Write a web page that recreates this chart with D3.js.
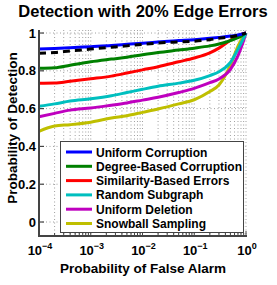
<!DOCTYPE html>
<html>
<head>
<meta charset="utf-8">
<script src="https://cdn.jsdelivr.net/npm/d3@7"></script>
<style>
  body { margin: 0; background: #fff; }
  text { font-family: "Liberation Sans", Arial, Helvetica, sans-serif; font-weight: bold; fill: #000; }
</style>
</head>
<body>
<div id="chart"></div>
<script>
// false alarm rates shared by all curves
var fpr = [1e-4, 2e-4, 4e-4, 1e-3, 2.5e-3, 5e-3, 0.01, 0.02, 0.05, 0.1, 0.2, 0.3, 0.5, 0.7, 0.85, 1];

// detection probability per method
var uniformCorruption = [0.915, 0.918, 0.922, 0.928, 0.934, 0.94, 0.946, 0.953, 0.96, 0.965, 0.972, 0.977, 0.984, 0.99, 0.995, 1];
var degreeBased       = [0.813, 0.816, 0.83, 0.848, 0.862, 0.872, 0.885, 0.897, 0.91, 0.92, 0.932, 0.942, 0.96, 0.975, 0.988, 1];
var similarityBased   = [0.734, 0.735, 0.745, 0.758, 0.772, 0.788, 0.805, 0.822, 0.848, 0.868, 0.895, 0.92, 0.962, 0.985, 0.995, 1];
var randomSubgraph    = [0.612, 0.625, 0.64, 0.652, 0.668, 0.685, 0.702, 0.718, 0.735, 0.75, 0.775, 0.795, 0.845, 0.915, 0.96, 1];
var uniformDeletion   = [0.557, 0.575, 0.592, 0.603, 0.618, 0.63, 0.645, 0.66, 0.685, 0.707, 0.737, 0.757, 0.808, 0.88, 0.94, 1];
var snowballSampling  = [0.48, 0.508, 0.515, 0.528, 0.55, 0.562, 0.58, 0.598, 0.625, 0.647, 0.69, 0.725, 0.83, 0.93, 0.975, 1];
// dashed black reference curve (not in legend)
var referenceCurve    = [0.893, 0.897, 0.905, 0.915, 0.925, 0.932, 0.94, 0.947, 0.953, 0.957, 0.965, 0.972, 0.98, 0.988, 0.994, 1];

var seriesNames = ["Uniform Corruption", "Degree-Based Corruption", "Similarity-Based Errors",
                   "Random Subgraph", "Uniform Deletion", "Snowball Sampling"];
var seriesColors = ["#0000ff", "#008000", "#ff0000", "#00bfbf", "#bf00bf", "#bfbf00"];
var yTicks = [0, 0.2, 0.4, 0.6, 0.8, 1];
var xTickExps = [-4, -3, -2, -1, 0];

var width = 277, height = 285;
var svg = d3.select("#chart").append("svg")
    .attr("width", width)
    .attr("height", height);

var x = d3.scaleLog().domain([1e-4, 1]).range([39, 246]);
var y = d3.scaleLinear().domain([-0.074, 1.016]).range([236, 30]);

// grid: vertical major + minor, horizontal major
var minor = [];
xTickExps.forEach(function(e) {
    for (var k = 1; k < 10; k++) {
        var v = k * Math.pow(10, e);
        if (v <= 1) minor.push(v);
    }
});

svg.append("g").selectAll("line")
    .data(minor.filter(function(v) { return v > 1e-4; }))
    .enter().append("line")
    .attr("x1", function(d) { return x(d); })
    .attr("x2", function(d) { return x(d); })
    .attr("y1", y(1.016))
    .attr("y2", y(-0.074))
    .attr("stroke", "#888")
    .attr("stroke-width", 0.8)
    .attr("stroke-dasharray", "1,2.5");

svg.append("g").selectAll("line")
    .data(yTicks)
    .enter().append("line")
    .attr("x1", x(1e-4))
    .attr("x2", x(1))
    .attr("y1", function(d) { return y(d); })
    .attr("y2", function(d) { return y(d); })
    .attr("stroke", "#888")
    .attr("stroke-width", 0.8)
    .attr("stroke-dasharray", "1,2.5");

// curves
var line = d3.line()
    .x(function(d) { return x(d[0]); })
    .y(function(d) { return y(d[1]); })
    .curve(d3.curveMonotoneX);

var allSeries = [uniformCorruption, degreeBased, similarityBased, randomSubgraph, uniformDeletion, snowballSampling];

// draw from bottom to top so blue sits on top
for (var i = allSeries.length - 1; i >= 0; i--) {
    svg.append("path")
        .datum(d3.zip(fpr, allSeries[i]))
        .attr("d", line)
        .attr("fill", "none")
        .attr("stroke", seriesColors[i])
        .attr("stroke-width", 3);
}

svg.append("path")
    .datum(d3.zip(fpr, referenceCurve))
    .attr("d", line)
    .attr("fill", "none")
    .attr("stroke", "#000")
    .attr("stroke-width", 3)
    .attr("stroke-dasharray", "7,5");

// axes lines (left + bottom only)
svg.append("line")
    .attr("x1", 39).attr("x2", 39)
    .attr("y1", y(1.016)).attr("y2", y(-0.074))
    .attr("stroke", "#444").attr("stroke-width", 2);
svg.append("line")
    .attr("x1", 38).attr("x2", x(1) + 1)
    .attr("y1", y(-0.074)).attr("y2", y(-0.074))
    .attr("stroke", "#444").attr("stroke-width", 2);

// y ticks and labels
svg.append("g").selectAll("line")
    .data(yTicks).enter().append("line")
    .attr("x1", 39).attr("x2", 44)
    .attr("y1", function(d) { return y(d); })
    .attr("y2", function(d) { return y(d); })
    .attr("stroke", "#444").attr("stroke-width", 1.2);

svg.append("g").selectAll("text")
    .data(yTicks).enter().append("text")
    .attr("x", 36)
    .attr("y", function(d) { return y(d) + 4.5; })
    .attr("text-anchor", "end")
    .style("font-size", "13px")
    .text(function(d) { return d3.format("")(d); });

// x ticks: major + minor, inward
svg.append("g").selectAll("line")
    .data(minor).enter().append("line")
    .attr("x1", function(d) { return x(d); })
    .attr("x2", function(d) { return x(d); })
    .attr("y1", y(-0.074))
    .attr("y2", function(d) {
        var isMajor = Math.abs(Math.log10(d) - Math.round(Math.log10(d))) < 1e-9;
        return y(-0.074) - (isMajor ? 5 : 3);
    })
    .attr("stroke", "#444").attr("stroke-width", 1);

var xLabels = svg.append("g").selectAll("text")
    .data(xTickExps).enter().append("text")
    .attr("x", function(d) { return x(Math.pow(10, d)) + 1; })
    .attr("y", 255)
    .attr("text-anchor", "middle")
    .style("font-size", "13px");
xLabels.append("tspan").text("10");
xLabels.append("tspan")
    .attr("dy", -6)
    .style("font-size", "9px")
    .text(function(d) { return d === 0 ? "0" : "\u2212" + Math.abs(d); });

// axis titles
svg.append("text")
    .attr("x", 143)
    .attr("y", 273)
    .attr("text-anchor", "middle")
    .style("font-size", "13.5px")
    .text("Probability of False Alarm");

svg.append("text")
    .attr("transform", "translate(17,128) rotate(-90)")
    .attr("text-anchor", "middle")
    .style("font-size", "13.5px")
    .text("Probability of Detection");

svg.append("text")
    .attr("x", 143)
    .attr("y", 17)
    .attr("text-anchor", "middle")
    .style("font-size", "16.5px")
    .text("Detection with 20% Edge Errors");

// legend
var legend = svg.append("g");
legend.append("rect")
    .attr("x", 60.5).attr("y", 141.5)
    .attr("width", 183).attr("height", 91)
    .attr("fill", "#fff")
    .attr("stroke", "#444")
    .attr("stroke-width", 1);

var entries = legend.selectAll("g.entry")
    .data(seriesNames).enter().append("g")
    .attr("class", "entry")
    .attr("transform", function(d, i) { return "translate(0," + (152 + i * 14.3) + ")"; });

entries.append("line")
    .attr("x1", 66).attr("x2", 92)
    .attr("y1", 0).attr("y2", 0)
    .attr("stroke", function(d, i) { return seriesColors[i]; })
    .attr("stroke-width", 3);

entries.append("text")
    .attr("x", 96)
    .attr("y", 4.5)
    .style("font-size", "12px")
    .text(function(d) { return d; });
</script>
</body>
</html>
